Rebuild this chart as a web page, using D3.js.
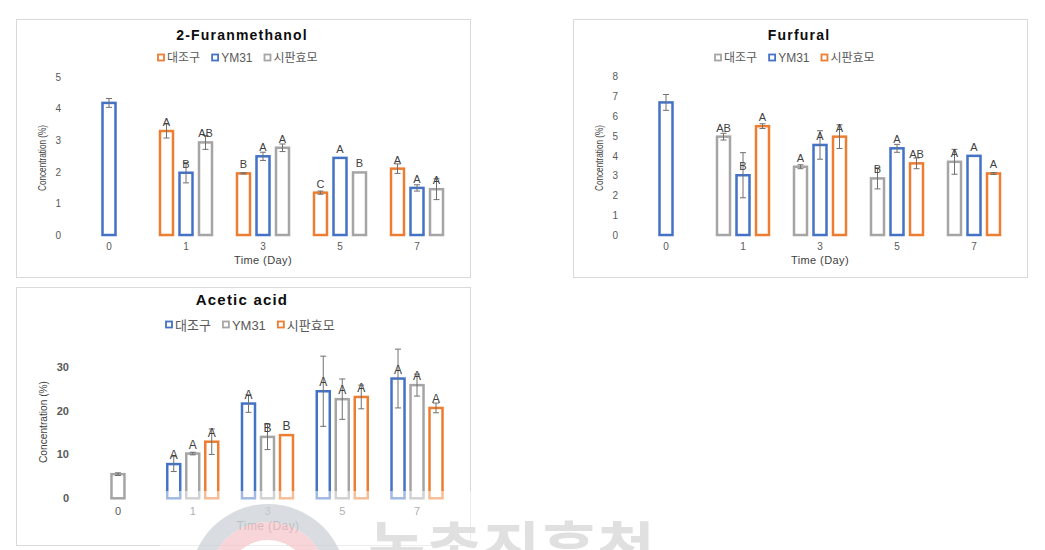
<!DOCTYPE html>
<html><head><meta charset="utf-8">
<script src="https://cdn.jsdelivr.net/npm/d3@7"></script>
<style>
body{margin:0;background:#fff}
svg{display:block}
text{font-family:"Liberation Sans","Noto Sans CJK KR",Arial,sans-serif}
</style>
</head><body>
<svg id="chart" width="1045" height="550"></svg>
<script>
// ---------- DATA ----------
const days = ["0", "1", "3", "5", "7"];
const seriesNames = ["대조구", "YM31", "시판효모"];
const xAxisTitle = "Time (Day)";
const yAxisTitle = "Concentration (%)";

// 2-Furanmethanol
const furanTitle = "2-Furanmethanol";
const furanTicks = [0, 1, 2, 3, 4, 5];
const furanControl = [null, 3.29, 1.95, 1.34, 2.10];
const furanYM31 = [4.18, 1.97, 2.49, 2.44, 1.49];
const furanCommercial = [null, 2.93, 2.76, 1.98, 1.45];
const furanControlErr = [0, 0.22, 0.02, 0.05, 0.15];
const furanYM31Err = [0.14, 0.32, 0.13, 0, 0.10];
const furanCommercialErr = [0, 0.22, 0.12, 0, 0.33];
const furanControlLetters = ["", "A", "B", "C", "A"];
const furanYM31Letters = ["", "B", "A", "A", "A"];
const furanCommercialLetters = ["", "AB", "A", "B", "A"];

// Furfural
const furfuralTitle = "Furfural";
const furfuralTicks = [0, 1, 2, 3, 4, 5, 6, 7, 8];
const furfuralControl = [null, 4.97, 3.45, 2.86, 3.70];
const furfuralYM31 = [6.70, 3.02, 4.55, 4.38, 4.00];
const furfuralCommercial = [null, 5.50, 4.97, 3.62, 3.11];
const furfuralControlErr = [0, 0.17, 0.10, 0.53, 0.63];
const furfuralYM31Err = [0.40, 1.14, 0.72, 0.20, 0];
const furfuralCommercialErr = [0, 0.12, 0.60, 0.27, 0.05];
const furfuralControlLetters = ["", "AB", "A", "B", "A"];
const furfuralYM31Letters = ["", "B", "A", "A", "A"];
const furfuralCommercialLetters = ["", "A", "A", "AB", "A"];

// Acetic acid
const aceticTitle = "Acetic acid";
const aceticTicks = [0, 10, 20, 30];
const aceticControl = [null, 7.8, 21.6, 24.4, 27.3];
const aceticYM31 = [5.5, 10.2, 14.0, 22.6, 25.8];
const aceticCommercial = [null, 12.9, 14.4, 23.1, 20.6];
const aceticControlErr = [0, 1.7, 2.0, 8.0, 6.7];
const aceticYM31Err = [0.3, 0.3, 2.9, 4.6, 2.5];
const aceticCommercialErr = [0, 2.9, 0, 2.7, 1.1];
const aceticControlLetters = ["", "A", "A", "A", "A"];
const aceticYM31Letters = ["", "A", "B", "A", "A"];
const aceticCommercialLetters = ["", "A", "B", "A", "A"];

const watermarkText = "농촌진흥청";

// ---------- STYLE ----------
const ORANGE = "#ED7D31", BLUE = "#4472C4", GRAY = "#A5A5A5";

const svg = d3.select("#chart");

const panels = [
  {
    title: furanTitle, ticks: furanTicks, yMax: 5,
    values: [furanControl, furanYM31, furanCommercial],
    errs: [furanControlErr, furanYM31Err, furanCommercialErr],
    letters: [furanControlLetters, furanYM31Letters, furanCommercialLetters],
    colors: [ORANGE, BLUE, GRAY],
    frame: [16, 19, 470, 277], titleX: 242, titleY: 40, titleSize: 14,
    legendX: 158, legendY: 58, legendSize: 12,
    xRange: [70.5, 455.5], yRange: [235, 77], axisX: 64,
    step: 19.5, barW: 13, tickSize: 10, tickBold: false, xPad: 8,
    yTitle: {x: 42, y: 158, size: 10.5, len: 66},
    xTitle: {x: 263, y: 264, size: 11},
    letterSize: 11
  },
  {
    title: furfuralTitle, ticks: furfuralTicks, yMax: 8,
    values: [furfuralControl, furfuralYM31, furfuralCommercial],
    errs: [furfuralControlErr, furfuralYM31Err, furfuralCommercialErr],
    letters: [furfuralControlLetters, furfuralYM31Letters, furfuralCommercialLetters],
    colors: [GRAY, BLUE, ORANGE],
    frame: [573, 19, 1027, 277], titleX: 799, titleY: 40, titleSize: 14,
    legendX: 715, legendY: 58, legendSize: 12,
    xRange: [627.5, 1012.5], yRange: [235, 76.7], axisX: 621,
    step: 19.5, barW: 13, tickSize: 10, tickBold: false, xPad: 8,
    yTitle: {x: 599, y: 158, size: 10.5, len: 66},
    xTitle: {x: 820, y: 264, size: 11},
    letterSize: 11
  },
  {
    title: aceticTitle, ticks: aceticTicks, yMax: 30,
    values: [aceticControl, aceticYM31, aceticCommercial],
    errs: [aceticControlErr, aceticYM31Err, aceticCommercialErr],
    letters: [aceticControlLetters, aceticYM31Letters, aceticCommercialLetters],
    colors: [BLUE, GRAY, ORANGE],
    frame: [16, 287, 470, 545], titleX: 242, titleY: 305, titleSize: 15,
    legendX: 166, legendY: 325, legendSize: 13,
    xRange: [80.6, 454.4], yRange: [498.3, 366.7], axisX: 72,
    step: 19, barW: 13, tickSize: 11, tickBold: true, xPad: 8.5,
    yTitle: {x: 43, y: 422, size: 11, len: 82},
    xTitle: {x: 268, y: 530, size: 12},
    letterSize: 12
  }
];

function drawPanel(p) {
  const g = svg.append("g");
  const [fx0, fy0, fx1, fy1] = p.frame;
  g.append("rect").attr("x", fx0 + 0.5).attr("y", fy0 + 0.5)
    .attr("width", fx1 - fx0).attr("height", fy1 - fy0)
    .attr("fill", "#fff").attr("stroke", "#d9d9d9").attr("stroke-width", 1);

  // title
  g.append("text").attr("x", p.titleX).attr("y", p.titleY)
    .attr("text-anchor", "middle").attr("font-weight", "bold")
    .attr("font-size", p.titleSize).attr("letter-spacing", "1.2px")
    .attr("fill", "#0d0d0d").text(p.title);

  // legend
  let lx = p.legendX;
  seriesNames.forEach((name, i) => {
    g.append("rect").attr("x", lx).attr("y", p.legendY - 3.5)
      .attr("width", 6).attr("height", 6)
      .attr("fill", "#fff").attr("stroke", p.colors[i]).attr("stroke-width", 1.8);
    const t = g.append("text").attr("x", lx + 9).attr("y", p.legendY)
      .attr("dy", "0.36em").attr("font-size", p.legendSize)
      .attr("fill", "#595959").text(name);
    lx += 9 + t.node().getComputedTextLength() + 12;
  });

  const x = d3.scaleBand().domain(days).range(p.xRange).padding(0);
  const y = d3.scaleLinear().domain([0, p.yMax]).range(p.yRange);

  // axes
  const ya = g.append("g").attr("transform", `translate(${p.axisX},0)`)
    .call(d3.axisLeft(y).tickValues(p.ticks).tickSize(0).tickPadding(3).tickFormat(d3.format("d")));
  ya.select(".domain").remove();
  ya.selectAll("text").attr("font-size", p.tickSize).attr("fill", "#595959")
    .attr("font-family", "Liberation Sans, Arial, sans-serif")
    .attr("font-weight", p.tickBold ? "bold" : "normal");

  const xa = g.append("g").attr("transform", `translate(0,${y(0)})`)
    .call(d3.axisBottom(x).tickSize(0).tickPadding(p.xPad));
  xa.select(".domain").remove();
  xa.selectAll("text").attr("font-size", p.tickSize).attr("fill", "#595959")
    .attr("font-family", "Liberation Sans, Arial, sans-serif");

  // axis titles
  g.append("text").attr("transform", `translate(${p.yTitle.x},${p.yTitle.y}) rotate(-90)`)
    .attr("text-anchor", "middle").attr("dy", "0.35em")
    .attr("font-size", p.yTitle.size).attr("fill", "#404040")
    .attr("textLength", p.yTitle.len).attr("lengthAdjust", "spacingAndGlyphs")
    .text(yAxisTitle);
  g.append("text").attr("x", p.xTitle.x).attr("y", p.xTitle.y)
    .attr("text-anchor", "middle").attr("font-size", p.xTitle.size)
    .attr("letter-spacing", "0.4px").attr("fill", "#404040").text(xAxisTitle);

  // bars
  days.forEach((d, di) => {
    const present = [0, 1, 2].filter(s => p.values[s][di] != null);
    const center = x(d) + x.bandwidth() / 2;
    present.forEach(s => {
      const v = p.values[s][di];
      const e = p.errs[s][di];
      const cx = present.length === 1 ? center : center + (s - 1) * p.step;
      g.append("rect").attr("x", cx - p.barW / 2).attr("y", y(v))
        .attr("width", p.barW).attr("height", y(0) - y(v))
        .attr("fill", "#fff").attr("stroke", p.colors[s]).attr("stroke-width", 2.5);
      if (e > 0) {
        const eg = g.append("g").attr("stroke", "#707070").attr("stroke-width", 1);
        eg.append("line").attr("x1", cx).attr("x2", cx).attr("y1", y(v - e)).attr("y2", y(v + e));
        eg.append("line").attr("x1", cx - 3).attr("x2", cx + 3).attr("y1", y(v - e)).attr("y2", y(v - e));
        eg.append("line").attr("x1", cx - 3).attr("x2", cx + 3).attr("y1", y(v + e)).attr("y2", y(v + e));
      }
      const L = p.letters[s][di];
      if (L) {
        g.append("text").attr("x", cx).attr("y", y(v) - 5)
          .attr("text-anchor", "middle").attr("font-size", p.letterSize)
          .attr("fill", "#404040").text(L);
      }
    });
  });
}

panels.forEach(drawPanel);

// ---------- watermark ----------
const wm = svg.append("g");
wm.append("rect").attr("x", 160).attr("y", 491).attr("width", 540).attr("height", 60)
  .attr("fill", "#fff").attr("opacity", 0.5);
const arc = d3.arc().startAngle(-Math.PI / 2).endAngle(Math.PI / 2);
wm.append("path").attr("transform", "translate(268,582)")
  .attr("d", arc({innerRadius: 60, outerRadius: 78}))
  .attr("fill", "#c9ced6").attr("opacity", 0.7);
wm.append("path").attr("transform", "translate(268,582)")
  .attr("d", arc({innerRadius: 42, outerRadius: 60}))
  .attr("fill", "#f3c3c8").attr("opacity", 0.7);
wm.append("text").attr("x", 368).attr("y", 572)
  .attr("font-family", "Noto Sans CJK KR").attr("font-weight", "bold")
  .attr("font-size", 60).attr("fill", "#e0e0e0")
  .attr("textLength", 287).attr("lengthAdjust", "spacingAndGlyphs")
  .text(watermarkText);
</script>
</body></html>
